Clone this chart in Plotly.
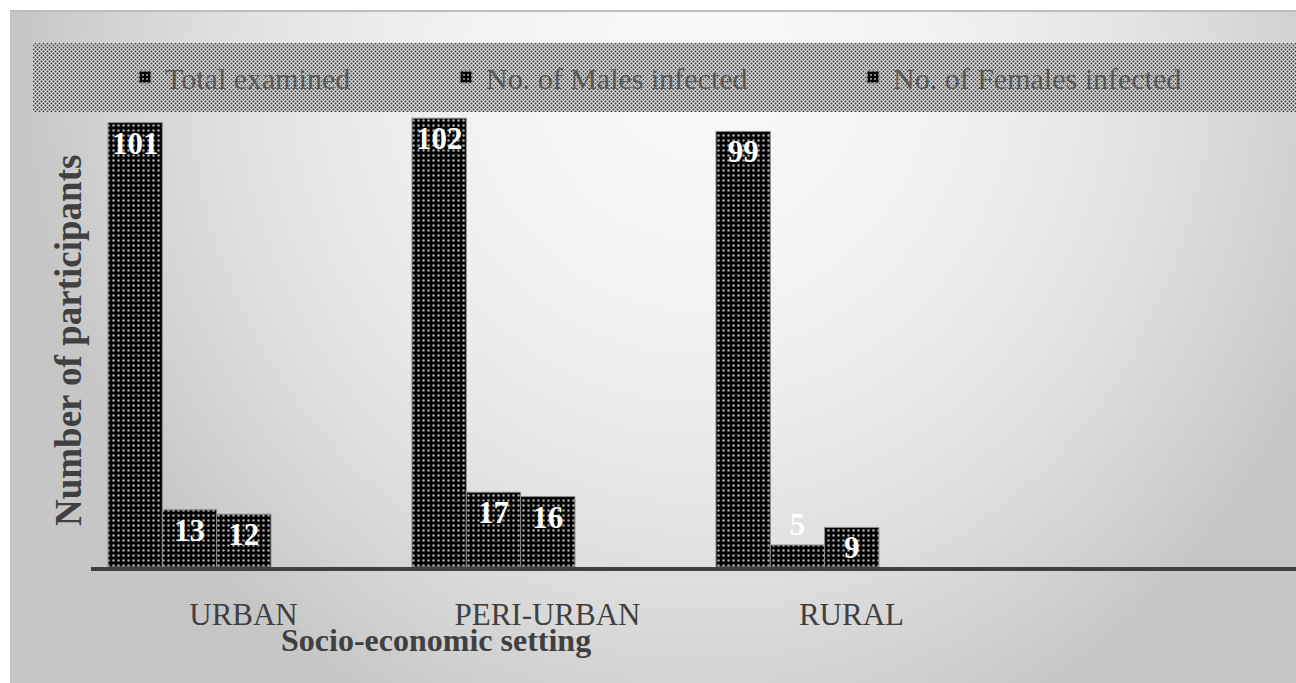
import base64
import struct
import zlib

import numpy as np
import plotly.graph_objects as go

# ---------------- data ----------------
categories = ["URBAN", "PERI-URBAN", "RURAL"]
series_names = ["Total examined", "No. of Males infected", "No. of Females infected"]
total_examined = [101, 102, 99]
males_infected = [13, 17, 5]
females_infected = [12, 16, 9]
x_title = "Socio-economic setting"
y_title = "Number of participants"

# ---------------- geometry ----------------
W, H = 1296, 683
ML, MR, MT, MB = 91, 0, 83, 116
PW = W - ML - MR
PH = H - MT - MB
SERIF = "Liberation Serif, Times New Roman, serif"


def px_x(px):
    return (px - ML) / PW


def px_y(py):
    return (H - MB - py) / PH


def png_uri(a):
    a = np.asarray(a, dtype=np.uint8)
    h, w = a.shape
    raw = b"".join(b"\x00" + a[i].tobytes() for i in range(h))

    def chunk(t, d):
        c = struct.pack(">I", len(d)) + t + d
        return c + struct.pack(">I", zlib.crc32(t + d) & 0xFFFFFFFF)

    png = (b"\x89PNG\r\n\x1a\n"
           + chunk(b"IHDR", struct.pack(">IIBBBBB", w, h, 8, 0, 0, 0, 0))
           + chunk(b"IDAT", zlib.compress(raw, 9))
           + chunk(b"IEND", b""))
    return "data:image/png;base64," + base64.b64encode(png).decode()


# background gradient panel (decoration)
step = 4
gx = np.arange(10, W, step) + step / 2
gy = np.arange(11, H, step) + step / 2
GX, GY = np.meshgrid(gx, gy)
r2 = ((GX - 700) / 650) ** 2 + ((GY - 60) / 700) ** 2
grad = np.clip(248 - 45 * r2, 198, 250)

# legend band texture (decoration)
tile = np.array([[235, 150, 70, 150],
                 [150, 200, 150, 200],
                 [70, 150, 235, 150],
                 [150, 200, 150, 200]])
leg_w, leg_h = 1296 - 33, 112 - 43
leg_tex = np.tile(tile, (leg_h // 4 + 1, leg_w // 4 + 1))[:leg_h, :leg_w]


def label_positions(vals, min_inside=8):
    # small bars cannot hold their label, so it sits above them
    return ["inside" if v >= min_inside else "outside" for v in vals]


fig = go.Figure()
for name, vals, lw in zip(series_names,
                          [total_examined, males_infected, females_infected],
                          [276, 362, 300]):
    fig.add_trace(go.Bar(
        x=categories, y=vals, name=name, text=vals,
        textposition=label_positions(vals), insidetextanchor="end",
        constraintext="none", textangle=0,
        textfont=dict(family=SERIF, size=31, color="white", weight="bold"),
        outsidetextfont=dict(family=SERIF, size=31, color="white", weight="bold"),
        marker=dict(color="black",
                    line=dict(color="#8c8c8c", width=1),
                    pattern=dict(shape=".", fgcolor="#a8a8a8", bgcolor="#030303",
                                 size=5, solidity=0.2, fillmode="replace")),
        legendwidth=lw, cliponaxis=False,
    ))

fig.update_layout(
    width=W, height=H, autosize=False,
    margin=dict(l=ML, r=MR, t=MT, b=MB, pad=0),
    paper_bgcolor="white", plot_bgcolor="rgba(0,0,0,0)",
    barmode="group", bargap=0.464, bargroupgap=0,
    font=dict(family=SERIF, color="#404040"),
    showlegend=True,
    legend=dict(orientation="h", xanchor="left", yanchor="middle",
                x=px_x(125), y=px_y(77), bgcolor="rgba(0,0,0,0)",
                font=dict(family=SERIF, size=30, color="#595959")),
    xaxis=dict(type="category", range=[-0.324, 3.64], showline=True,
               linecolor="#404040", linewidth=4, ticks="", showgrid=False,
               zeroline=False, tickfont=dict(family=SERIF, size=31, color="#404040"),
               ticklabelshift=54, ticklabelstandoff=17),
    yaxis=dict(range=[0, 110], showticklabels=False, showgrid=False,
               zeroline=False, showline=False, ticks=""),
    images=[
        dict(source=png_uri(grad), xref="paper", yref="paper",
             x=px_x(10), y=px_y(11), sizex=(W - 10) / PW, sizey=(H - 11) / PH,
             xanchor="left", yanchor="top", sizing="stretch", layer="below"),
        dict(source=png_uri(leg_tex), xref="paper", yref="paper",
             x=px_x(33), y=px_y(43), sizex=leg_w / PW, sizey=leg_h / PH,
             xanchor="left", yanchor="top", sizing="stretch", layer="below"),
    ],
    shapes=[dict(type="line", xref="paper", yref="paper",
                 x0=px_x(10), x1=px_x(W), y0=px_y(11), y1=px_y(11),
                 line=dict(color="#bfbfbf", width=2))],
    annotations=[
        dict(text=f"<b>{y_title}</b>", xref="paper", yref="paper",
             x=px_x(68), y=px_y(341), showarrow=False, textangle=-90,
             xanchor="center", yanchor="middle",
             font=dict(family=SERIF, size=37, color="#404040")),
        dict(text=f"<b>{x_title}</b>", xref="paper", yref="paper",
             x=px_x(436), y=px_y(640), showarrow=False,
             xanchor="center", yanchor="middle",
             font=dict(family=SERIF, size=32, color="#404040")),
    ],
)

fig.write_html("out.html",
               config={"displayModeBar": False},
               post_script="document.body.style.margin='0';"
                           "document.body.style.overflow='hidden';")
